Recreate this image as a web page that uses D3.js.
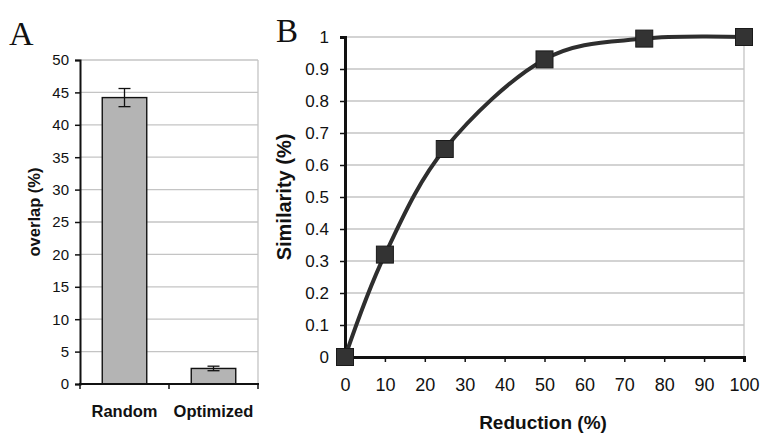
<!DOCTYPE html>
<html>
<head>
<meta charset="utf-8">
<script src="https://cdn.jsdelivr.net/npm/d3@7"></script>
<style>
  html, body { margin: 0; padding: 0; background: #fff; }
  svg { display: block; }
  text { font-family: "Liberation Sans", Arial, sans-serif; fill: #111; }
  .panel-letter { font-family: "Liberation Serif", "Times New Roman", serif; }
</style>
</head>
<body>
<svg id="chart" width="760" height="433"></svg>
<script>
// Panel A: overlap of random vs optimized sets
const barCategories = ["Random", "Optimized"];
const barValues = [44.2, 2.4];
const barErrors = [1.4, 0.35];
const overlapTicks = [0, 5, 10, 15, 20, 25, 30, 35, 40, 45, 50];

// Panel B: similarity as a function of reduction
const reductionValues = [0, 10, 25, 50, 75, 100];
const similarityValues = [0, 0.32, 0.65, 0.93, 0.995, 1.0];
const reductionTicks = [0, 10, 20, 30, 40, 50, 60, 70, 80, 90, 100];
const similarityTicks = [0, 0.1, 0.2, 0.3, 0.4, 0.5, 0.6, 0.7, 0.8, 0.9, 1];

const svg = d3.select("#chart");
const gridColor = "#c4c4c4";

// ---------- Panel A ----------
{
  const left = 80, right = 258, top = 60, bottom = 384;
  const x = d3.scaleBand().domain(barCategories).range([left, right])
    .paddingInner(0.5).paddingOuter(0.25);
  const y = d3.scaleLinear().domain([0, 50]).range([bottom, top]);
  const g = svg.append("g");

  // horizontal grid
  g.selectAll("line.grid").data(overlapTicks.filter(t => t > 0)).join("line")
    .attr("x1", left).attr("x2", right)
    .attr("y1", d => y(d)).attr("y2", d => y(d))
    .attr("stroke", gridColor).attr("stroke-width", 1.3);
  // right border of plot area
  g.append("line").attr("x1", right).attr("x2", right).attr("y1", top).attr("y2", bottom)
    .attr("stroke", gridColor).attr("stroke-width", 1.3);

  // bars
  g.selectAll("rect.bar").data(barValues).join("rect")
    .attr("x", (d, i) => x(barCategories[i]))
    .attr("width", x.bandwidth())
    .attr("y", d => y(d))
    .attr("height", d => y(0) - y(d))
    .attr("fill", "#b4b4b4").attr("stroke", "#111").attr("stroke-width", 1.4);

  // error bars
  const eb = g.selectAll("g.err").data(barValues).join("g");
  eb.append("line")
    .attr("x1", (d, i) => x(barCategories[i]) + x.bandwidth() / 2)
    .attr("x2", (d, i) => x(barCategories[i]) + x.bandwidth() / 2)
    .attr("y1", (d, i) => y(d + barErrors[i]))
    .attr("y2", (d, i) => y(d - barErrors[i]))
    .attr("stroke", "#111").attr("stroke-width", 1.3);
  [1, -1].forEach(s => {
    eb.append("line")
      .attr("x1", (d, i) => x(barCategories[i]) + x.bandwidth() / 2 - 6)
      .attr("x2", (d, i) => x(barCategories[i]) + x.bandwidth() / 2 + 6)
      .attr("y1", (d, i) => y(d + s * barErrors[i]))
      .attr("y2", (d, i) => y(d + s * barErrors[i]))
      .attr("stroke", "#111").attr("stroke-width", 1.3);
  });

  // y axis
  const yAxis = g.append("g").attr("transform", `translate(${left},0)`)
    .call(d3.axisLeft(y).tickValues(overlapTicks).tickSize(5).tickPadding(6));
  yAxis.select(".domain").attr("stroke", "#111").attr("stroke-width", 2);
  yAxis.selectAll(".tick line").attr("stroke", "#111").attr("stroke-width", 1.5);
  yAxis.selectAll(".tick text").style("font-size", "15px").attr("fill", "#222");

  // x axis with ticks at category boundaries
  g.append("line").attr("x1", left - 1).attr("x2", right + 1).attr("y1", bottom).attr("y2", bottom)
    .attr("stroke", "#111").attr("stroke-width", 2);
  const bounds = [left, (x(barCategories[0]) + x.bandwidth() + x(barCategories[1])) / 2, right];
  g.selectAll("line.xtick").data(bounds).join("line")
    .attr("x1", d => d).attr("x2", d => d).attr("y1", bottom).attr("y2", bottom + 5)
    .attr("stroke", "#111").attr("stroke-width", 1.5);
  g.selectAll("text.cat").data(barCategories).join("text")
    .attr("x", d => x(d) + x.bandwidth() / 2)
    .attr("y", 417)
    .attr("text-anchor", "middle")
    .style("font-size", "16.5px").style("font-weight", "bold")
    .text(d => d);

  g.append("text")
    .attr("transform", `translate(40,212) rotate(-90)`)
    .attr("text-anchor", "middle")
    .style("font-size", "16.5px").style("font-weight", "bold")
    .text("overlap (%)");

  g.append("text").attr("class", "panel-letter")
    .attr("x", 9).attr("y", 45)
    .style("font-size", "34px")
    .text("A");
}

// ---------- Panel B ----------
{
  const left = 345, right = 744, top = 37, bottom = 357;
  const x = d3.scaleLinear().domain([0, 100]).range([left, right]);
  const y = d3.scaleLinear().domain([0, 1]).range([bottom, top]);
  const g = svg.append("g");

  g.selectAll("line.grid").data(similarityTicks.filter(t => t > 0)).join("line")
    .attr("x1", left).attr("x2", right)
    .attr("y1", d => y(d)).attr("y2", d => y(d))
    .attr("stroke", gridColor).attr("stroke-width", 1.3);
  g.append("line").attr("x1", right).attr("x2", right).attr("y1", top).attr("y2", bottom)
    .attr("stroke", gridColor).attr("stroke-width", 1.3);

  const yAxis = g.append("g").attr("transform", `translate(${left},0)`)
    .call(d3.axisLeft(y).tickValues(similarityTicks).tickSize(5).tickPadding(11)
      .tickFormat(d => d3.format("")(+d.toFixed(1))));
  yAxis.select(".domain").attr("stroke", "#111").attr("stroke-width", 3);
  yAxis.selectAll(".tick line").attr("stroke", "#111").attr("stroke-width", 1.5);
  yAxis.selectAll(".tick text").style("font-size", "17px").attr("fill", "#222");

  const xAxis = g.append("g").attr("transform", `translate(0,${bottom})`)
    .call(d3.axisBottom(x).tickValues(reductionTicks).tickSize(5).tickPadding(16));
  xAxis.select(".domain").attr("stroke", "#111").attr("stroke-width", 3);
  xAxis.selectAll(".tick line").attr("stroke", "#111").attr("stroke-width", 1.5);
  xAxis.selectAll(".tick text").style("font-size", "18px").attr("fill", "#222");

  // smoothed series line
  const pts = reductionValues.map((r, i) => [r, similarityValues[i]]);
  g.append("path").datum(pts)
    .attr("d", d3.line().x(d => x(d[0])).y(d => y(d[1])).curve(d3.curveCardinal.tension(0)))
    .attr("fill", "none").attr("stroke", "#2e2e2e").attr("stroke-width", 4);

  // square markers
  const m = 17;
  g.selectAll("rect.marker").data(pts).join("rect")
    .attr("x", d => x(d[0]) - m / 2).attr("y", d => y(d[1]) - m / 2)
    .attr("width", m).attr("height", m)
    .attr("fill", "#333").attr("stroke", "#1a1a1a").attr("stroke-width", 1);

  g.append("text")
    .attr("x", 543).attr("y", 429)
    .attr("text-anchor", "middle")
    .style("font-size", "19px").style("font-weight", "bold")
    .text("Reduction (%)");

  g.append("text")
    .attr("transform", `translate(291,197) rotate(-90)`)
    .attr("text-anchor", "middle")
    .style("font-size", "20px").style("font-weight", "bold")
    .text("Similarity (%)");

  g.append("text").attr("class", "panel-letter")
    .attr("x", 276).attr("y", 42)
    .style("font-size", "33px")
    .text("B");
}
</script>
</body>
</html>
